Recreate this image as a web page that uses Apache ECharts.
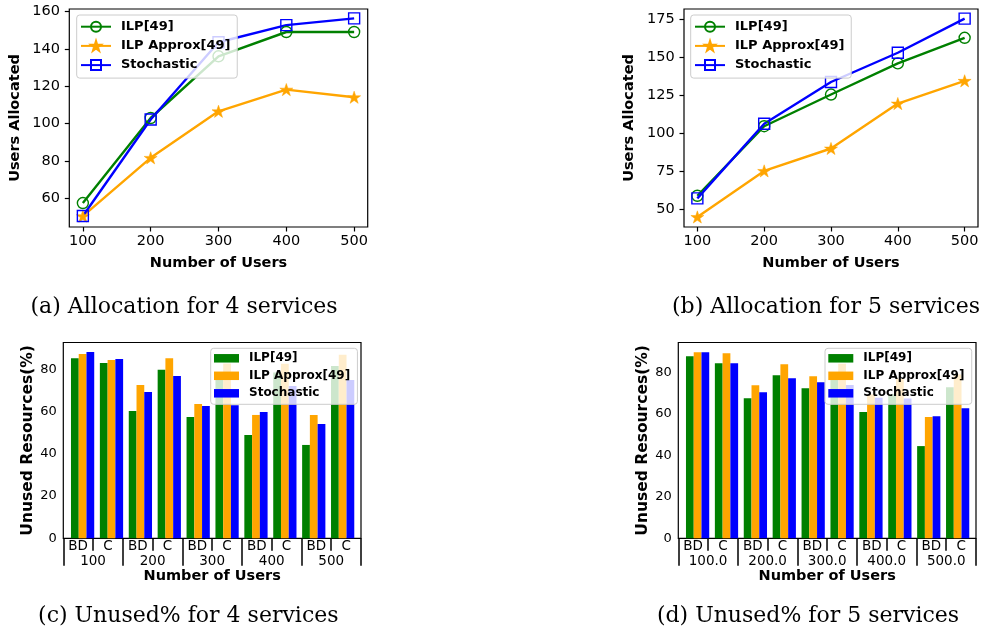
<!DOCTYPE html>
<html><head><meta charset="utf-8">
<script src="https://cdn.jsdelivr.net/npm/echarts@6/dist/echarts.min.js"></script>
<style>html,body{margin:0;padding:0;background:#fff}#c{width:984px;height:642px}</style>
</head><body><div id="c"></div>
<script>
// ---------------- data ----------------
const users = [100, 200, 300, 400, 500];
const userTicks = [100, 200, 300, 400, 500];
const yTicksA = [60, 80, 100, 120, 140, 160];
const yTicksB = [50, 75, 100, 125, 150, 175];
const yTicksBars = [0, 20, 40, 60, 80];
const seriesNames = ['ILP[49]', 'ILP Approx[49]', 'Stochastic'];

// (a) Allocation for 4 services
const ilpA = [57.5, 103.0, 136.0, 149.0, 149.0];
const approxA = [50.5, 81.7, 106.6, 118.2, 114.1];
const stochA = [50.6, 102.2, 143.5, 152.7, 156.3];
// (b) Allocation for 5 services
const ilpB = [59.0, 104.6, 125.4, 145.8, 162.6];
const approxB = [45.1, 75.3, 90.0, 119.5, 134.4];
const stochB = [57.3, 106.2, 133.6, 152.8, 175.2];

// (c)/(d) Unused resources, categories BD/C per user count
const subCats = ['BD', 'C'];
const groupLabelsC = ['100', '200', '300', '400', '500'];
const groupLabelsD = ['100.0', '200.0', '300.0', '400.0', '500.0'];
const ilpC = [85.3, 83.0, 60.3, 79.8, 57.4, 75.5, 48.9, 78.5, 44.2, 81.6];
const approxC = [87.2, 84.4, 72.6, 85.3, 63.6, 82.8, 58.4, 82.6, 58.4, 86.9];
const stochC = [88.2, 84.9, 69.3, 76.8, 62.6, 63.0, 59.8, 72.1, 54.1, 75.0];
const ilpD = [87.9, 84.5, 67.6, 78.7, 72.4, 77.3, 60.9, 69.5, 44.5, 72.9];
const approxD = [89.8, 89.3, 73.9, 84.0, 78.2, 84.3, 69.5, 77.0, 58.5, 79.0];
const stochD = [89.8, 84.5, 70.5, 77.2, 75.3, 74.0, 67.8, 67.5, 58.9, 62.8];

const captions = ['(a) Allocation for 4 services', '(b) Allocation for 5 services',
                  '(c) Unused% for 4 services', '(d) Unused% for 5 services'];

// ---------------- styles ----------------
const COLORS = ['green', 'orange', 'blue'];
const STAR = 'path://M50,0 L61.8,35.1 L98.9,35.1 L69.1,56.9 L80.3,91.9 L50,70.2 L19.7,91.9 L30.9,56.9 L1.1,35.1 L38.2,35.1 Z';
const SYMBOLS = ['circle', STAR, 'rect'];
const SYMSIZE = [11, 13, 11];
const HOLLOW = [true, false, true];
const FONT = 'DejaVu Sans';
const black = '#000';

const chart = echarts.init(document.getElementById('c'), null, {renderer: 'canvas'});

function lineSeries(vals, k, axisIdx) {
  return {
    type: 'line', name: seriesNames[k], xAxisIndex: axisIdx, yAxisIndex: axisIdx,
    data: users.map((u, i) => [u, vals[i]]),
    symbol: SYMBOLS[k], symbolSize: SYMSIZE[k], symbolKeepAspect: true,
    showAllSymbol: true,
    color: COLORS[k],
    lineStyle: {color: COLORS[k], width: 2.4},
    itemStyle: HOLLOW[k]
      ? {color: 'rgba(255,255,255,0)', borderColor: COLORS[k], borderWidth: 1.4}
      : {color: COLORS[k], borderColor: COLORS[k], borderWidth: 0.5},
    emphasis: {disabled: true}, animation: false
  };
}
function barSeries(vals, k, xIdx, yIdx) {
  return {
    type: 'bar', name: seriesNames[k], xAxisIndex: xIdx, yAxisIndex: yIdx,
    data: vals.map((v, i) => [i, v]),
    barWidth: 7.75, barGap: '0%',
    itemStyle: {color: COLORS[k]},
    emphasis: {disabled: true}, animation: false
  };
}

const grids = [
  {left: 69.3, top: 9, width: 298.4, height: 218},
  {left: 684, top: 9, width: 294, height: 218},
  {left: 63.3, top: 342.5, width: 297.7, height: 195.8},
  {left: 678.3, top: 342.5, width: 297.7, height: 195.8}
].map(g => Object.assign(g, {show: true, borderColor: black, borderWidth: 1.2, backgroundColor: 'transparent', containLabel: false}));

const tickLabel = (fs) => ({color: black, fontFamily: FONT, fontSize: fs});
const axisNameStyle = (fs) => ({color: black, fontFamily: FONT, fontSize: fs, fontWeight: 'bold'});

function lineXAxis(gi) {
  return {
    type: 'value', gridIndex: gi, min: 80, max: 520, position: 'bottom',
    name: 'Number of Users', nameLocation: 'middle', nameGap: 29, nameTextStyle: axisNameStyle(14.5),
    axisLine: {show: false, onZero: false}, splitLine: {show: false},
    axisTick: {show: true, length: 4.5, lineStyle: {color: black, width: 1.2}, customValues: userTicks},
    axisLabel: Object.assign({margin: 6.5, customValues: userTicks}, tickLabel(14.5))
  };
}
function lineYAxis(gi, min, max, ticks) {
  return {
    type: 'value', gridIndex: gi, min: min, max: max,
    name: 'Users Allocated', nameLocation: 'middle', nameGap: 47, nameTextStyle: axisNameStyle(14.5),
    axisLine: {show: false}, splitLine: {show: false},
    axisTick: {show: true, length: 4.5, lineStyle: {color: black, width: 1.2}, customValues: ticks},
    axisLabel: Object.assign({margin: 9.3, customValues: ticks}, tickLabel(14.5))
  };
}
function barAxes(gi, groupLabels) {
  const cats = groupLabels.flatMap(() => subCats);
  return [
    {type: 'value', gridIndex: gi, min: -0.668, max: 9.635, show: false, position: 'bottom',
     axisLine: {onZero: false}, splitLine: {show: false}},
    {type: 'category', gridIndex: gi, data: cats, position: 'bottom', boundaryGap: true,
     axisLine: {show: false, onZero: false}, splitLine: {show: false},
     axisTick: {show: true, alignWithLabel: false, interval: 0, length: 12.5, lineStyle: {color: black, width: 1.5}},
     axisLabel: Object.assign({margin: 1.5, interval: 0}, tickLabel(13.5))},
    {type: 'category', gridIndex: gi, data: groupLabels, position: 'bottom', boundaryGap: true,
     name: 'Number of Users', nameLocation: 'middle', nameGap: 29.5, nameTextStyle: axisNameStyle(14.5),
     axisLine: {show: false, onZero: false}, splitLine: {show: false},
     axisTick: {show: true, alignWithLabel: false, interval: 0, length: 27.5, lineStyle: {color: black, width: 1.5}},
     axisLabel: Object.assign({margin: 16, interval: 0}, tickLabel(13.5))}
  ];
}
function barYAxis(gi, max) {
  return {
    type: 'value', gridIndex: gi, min: 0, max: max,
    name: 'Unused Resources(%)', nameLocation: 'middle', nameGap: 27, nameTextStyle: axisNameStyle(15.5),
    axisLine: {show: false}, splitLine: {show: false},
    axisTick: {show: true, length: 3.5, lineStyle: {color: black, width: 1.2}, customValues: yTicksBars},
    axisLabel: Object.assign({margin: 6.6, customValues: yTicksBars}, tickLabel(13))
  };
}

const legendBase = {
  orient: 'vertical', backgroundColor: 'rgba(255,255,255,0.8)', borderColor: '#cccccc',
  borderWidth: 1, borderRadius: 3, selectedMode: false, z: 10
};
function lineLegend(left) {
  return Object.assign({}, legendBase, {
    left: left, top: 15, padding: [5.2, 6.7, 6.5, 3.3], itemWidth: 30, itemHeight: 12.5, itemGap: 6.2,
    data: seriesNames.slice(),
    textStyle: {color: black, fontFamily: FONT, fontWeight: 'bold', fontSize: 13, padding: [0, 0, 0, 5]}
  });
}
function barLegend(left) {
  return Object.assign({}, legendBase, {
    left: left, top: 348.3, padding: [4, 7.3, 5, 3.3], itemWidth: 25, itemHeight: 8.5, itemGap: 5.5,
    data: seriesNames.map((n, k) => ({name: n, icon: 'rect', itemStyle: {color: COLORS[k], borderWidth: 0}})),
    textStyle: {color: black, fontFamily: FONT, fontWeight: 'bold', fontSize: 12, padding: [0, 0, 0, 5]}
  });
}

const bA = barAxes(2, groupLabelsC);
const bD = barAxes(3, groupLabelsD);

const option = {
  backgroundColor: '#fff',
  animation: false,
  grid: grids,
  xAxis: [lineXAxis(0), lineXAxis(1), ...bA, ...bD],
  yAxis: [lineYAxis(0, 44.7, 161.3, yTicksA), lineYAxis(1, 38.5, 181.5, yTicksB),
          barYAxis(2, 92.7), barYAxis(3, 94.5)],
  legend: [lineLegend(76.7), lineLegend(690.7), barLegend(210.7), barLegend(825)],
  series: [
    lineSeries(ilpA, 0, 0), lineSeries(approxA, 1, 0), lineSeries(stochA, 2, 0),
    lineSeries(ilpB, 0, 1), lineSeries(approxB, 1, 1), lineSeries(stochB, 2, 1),
    barSeries(ilpC, 0, 2, 2), barSeries(approxC, 1, 2, 2), barSeries(stochC, 2, 2, 2),
    barSeries(ilpD, 0, 5, 3), barSeries(approxD, 1, 5, 3), barSeries(stochD, 2, 5, 3)
  ],
  graphic: captions.map((t, i) => ({
    type: 'text',
    x: [184, 826, 188.3, 808][i], y: [307, 307, 616, 616][i],
    style: {text: t, fontFamily: 'DejaVu Serif', fontSize: 22, fill: black,
            align: 'center', verticalAlign: 'middle', textAlign: 'center', textVerticalAlign: 'middle'}
  }))
};
chart.setOption(option);
</script></body></html>
